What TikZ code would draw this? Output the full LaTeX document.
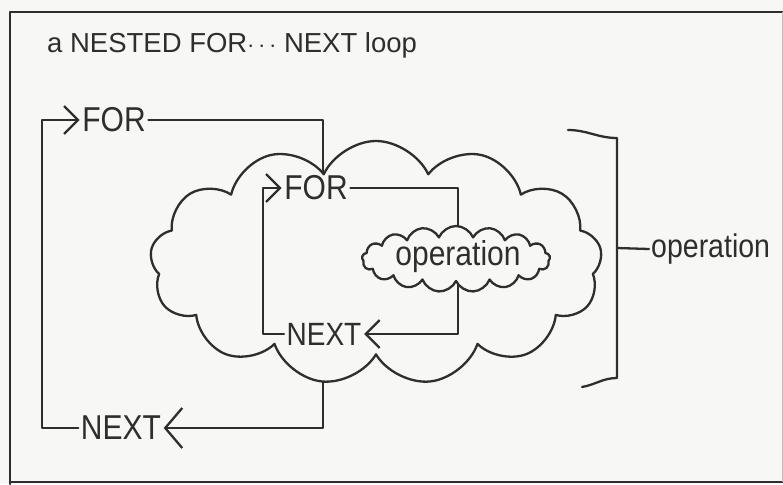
\documentclass[tikz,border=0pt]{standalone}
\usepackage{fontspec}
\setmainfont{Liberation Sans}
\usetikzlibrary{arrows.meta,shapes.symbols}
\definecolor{ink}{HTML}{2E2E2E}
\definecolor{paper}{HTML}{F7F7F5}
\newcommand{\hw}[1]{\scalebox{1}[1.15]{#1}}
\begin{document}
\begin{tikzpicture}[x=1pt,y=-1pt,
  ink/.style={draw=ink,line width=2.3pt,line join=round,line cap=round},
  lbl/.style={text=ink,inner sep=2.5pt,font=\fontsize{30}{30}\selectfont},
  bigtip/.style={-{Straight Barb[length=17pt,width=40pt,line width=2.3pt]}},
  smalltip/.style={-{Straight Barb[length=14pt,width=28pt,line width=2.3pt]}},
  cloudbox/.style={ink,cloud,cloud ignores aspect,fill=paper,inner sep=0pt}]
\fill[paper] (0,0) rectangle (783,484);
\useasboundingbox (0,0) rectangle (783,484);
% frame
\draw[ink] (10,484) -- (10,12) -- (783,12);
\draw[ink] (10,482) -- (783,482);
\draw[draw=ink!30,line width=1pt] (782,12) -- (782,482);
% title
\node[lbl,font=\fontsize{27.5}{27.5}\selectfont,anchor=base west,inner sep=0pt] (title) at (47,53) {a NESTED FOR$\cdots$ NEXT loop};
% outer loop
\node[lbl] (for1) at (114,120) {\hw{FOR}};
\node[lbl] (next1) at (121,428) {\hw{NEXT}};
\coordinate (l1) at (42,300);
\coordinate (c1) at (323,220);
\coordinate (c2) at (323,320);
\draw[ink] (for1.east) -| (c1);
\draw[ink,bigtip] (c2) |- (next1.east);
\draw[ink,smalltip] (next1.west) -| (l1) |- (for1.west);
% big cloud
\node[cloudbox,cloud puffs=13,cloud puff arc=130,minimum width=452pt,minimum height=244pt] (big) at (376,263) {};
% inner loop
\node[lbl] (for2) at (316,188) {\hw{FOR}};
\node[lbl,font=\fontsize{28}{28}\selectfont] (next2) at (324,334) {\hw{NEXT}};
\coordinate (l2) at (263,260);
\coordinate (c3) at (458,250);
\coordinate (c4) at (458,270);
\draw[ink] (for2.east) -| (c3);
\draw[ink,smalltip] (c4) |- (next2.east);
\draw[ink,smalltip] (next2.west) -| (l2) |- (for2.west);
% small cloud
\node[cloudbox,cloud puffs=17,cloud puff arc=135,minimum width=188pt,minimum height=66pt] (small) at (456,259) {};
\node[lbl] (op1) at (458,257) {\hw{operation}};
% bracket
\coordinate (bt0) at (568,130);
\coordinate (bt) at (617,138);
\coordinate (bb) at (617,378);
\coordinate (bb0) at (582,387);
\coordinate (bm) at (617,248);
\draw[ink] (bt0) to[out=0,in=180] (bt) -- (bb) to[out=180,in=10] (bb0);
\node[lbl,font=\fontsize{28.5}{28.5}\selectfont,anchor=west,inner sep=2pt] (op2) at (649,249) {\hw{operation}};
\draw[ink] (bm) -- (op2.west);
\end{tikzpicture}
\end{document}
